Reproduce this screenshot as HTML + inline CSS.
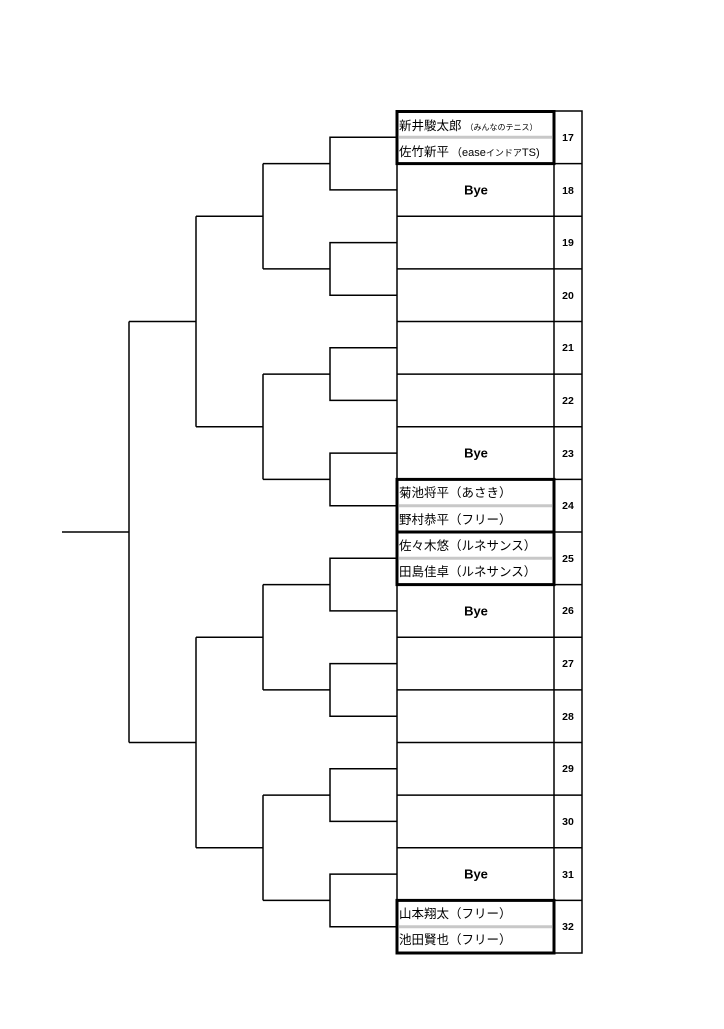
<!DOCTYPE html>
<html><head><meta charset="utf-8"><style>
html,body{margin:0;padding:0;background:#fff;}
svg text{font-family:"Liberation Sans","Noto Sans CJK JP",sans-serif;}
</style></head><body>
<svg width="724" height="1024" xmlns="http://www.w3.org/2000/svg">
<g stroke="#000" stroke-width="1.5" fill="none">
<rect x="397" y="111" width="185" height="842"/>
<line x1="554" y1="111" x2="554" y2="953"/>
<line x1="397" y1="163.6" x2="582" y2="163.6"/>
<line x1="397" y1="216.3" x2="582" y2="216.3"/>
<line x1="397" y1="268.9" x2="582" y2="268.9"/>
<line x1="397" y1="321.5" x2="582" y2="321.5"/>
<line x1="397" y1="374.1" x2="582" y2="374.1"/>
<line x1="397" y1="426.8" x2="582" y2="426.8"/>
<line x1="397" y1="479.4" x2="582" y2="479.4"/>
<line x1="397" y1="532" x2="582" y2="532"/>
<line x1="397" y1="584.6" x2="582" y2="584.6"/>
<line x1="397" y1="637.3" x2="582" y2="637.3"/>
<line x1="397" y1="689.9" x2="582" y2="689.9"/>
<line x1="397" y1="742.5" x2="582" y2="742.5"/>
<line x1="397" y1="795.1" x2="582" y2="795.1"/>
<line x1="397" y1="847.8" x2="582" y2="847.8"/>
<line x1="397" y1="900.4" x2="582" y2="900.4"/>
</g>
<g stroke="#c8c8c8" stroke-width="3">
<line x1="399" y1="137.3" x2="552" y2="137.3"/>
<line x1="399" y1="505.7" x2="552" y2="505.7"/>
<line x1="399" y1="558.3" x2="552" y2="558.3"/>
<line x1="399" y1="926.7" x2="552" y2="926.7"/>
</g>
<g stroke="#000" stroke-width="3" fill="none">
<rect x="397" y="111.5" width="157" height="52.1"/>
<rect x="397" y="479.4" width="157" height="52.6"/>
<rect x="397" y="532" width="157" height="52.6"/>
<rect x="397" y="900.4" width="157" height="52.6"/>
</g>
<g stroke="#000" stroke-width="1.5" fill="none">
<path d="M397 137.3H330V189.9H397 M330 163.6H263"/>
<path d="M397 242.6H330V295.2H397 M330 268.9H263"/>
<path d="M397 347.8H330V400.4H397 M330 374.1H263"/>
<path d="M397 453.1H330V505.7H397 M330 479.4H263"/>
<path d="M397 558.3H330V610.9H397 M330 584.6H263"/>
<path d="M397 663.6H330V716.2H397 M330 689.9H263"/>
<path d="M397 768.8H330V821.4H397 M330 795.1H263"/>
<path d="M397 874.1H330V926.7H397 M330 900.4H263"/>
<path d="M263 163.6V268.9 M263 216.3H196 M263 374.1V479.4 M263 426.8H196"/>
<path d="M263 584.6V689.9 M263 637.3H196 M263 795.1V900.4 M263 847.8H196"/>
<path d="M196 216.3V426.8 M196 321.5H129 M196 637.3V847.8 M196 742.5H129"/>
<path d="M129 321.5V742.5 M129 532H62"/>
</g>
<g font-size="10.5" font-weight="bold" text-anchor="middle" fill="#000">
<text x="568" y="141">17</text><text x="568" y="194">18</text><text x="568" y="246">19</text><text x="568" y="299">20</text>
<text x="568" y="351">21</text><text x="568" y="404">22</text><text x="568" y="457">23</text><text x="568" y="509">24</text>
<text x="568" y="562">25</text><text x="568" y="614">26</text><text x="568" y="667">27</text><text x="568" y="720">28</text>
<text x="568" y="772">29</text><text x="568" y="825">30</text><text x="568" y="878">31</text><text x="568" y="930">32</text>
</g>
<g font-size="13" font-weight="bold" text-anchor="middle" fill="#000">
<text x="476" y="194.5">Bye</text><text x="476" y="457.5">Bye</text><text x="476" y="615.5">Bye</text><text x="476" y="878.5">Bye</text>
</g>
<g font-size="12.5" fill="#000">
<text x="399" y="130">新井駿太郎<tspan font-size="8" dx="4">（みんなのテニス）</tspan></text>
<text x="399" y="156">佐竹新平<tspan font-size="11" dx="2">（ease</tspan><tspan font-size="9">インドア</tspan><tspan font-size="11">TS)</tspan></text>
<text x="399" y="497">菊池将平（あさき）</text>
<text x="399" y="524">野村恭平（フリー）</text>
<text x="399" y="550">佐々木悠（ルネサンス）</text>
<text x="399" y="576">田島佳卓（ルネサンス）</text>
<text x="399" y="918">山本翔太（フリー）</text>
<text x="399" y="944">池田賢也（フリー）</text>
</g>
</svg>
</body></html>
